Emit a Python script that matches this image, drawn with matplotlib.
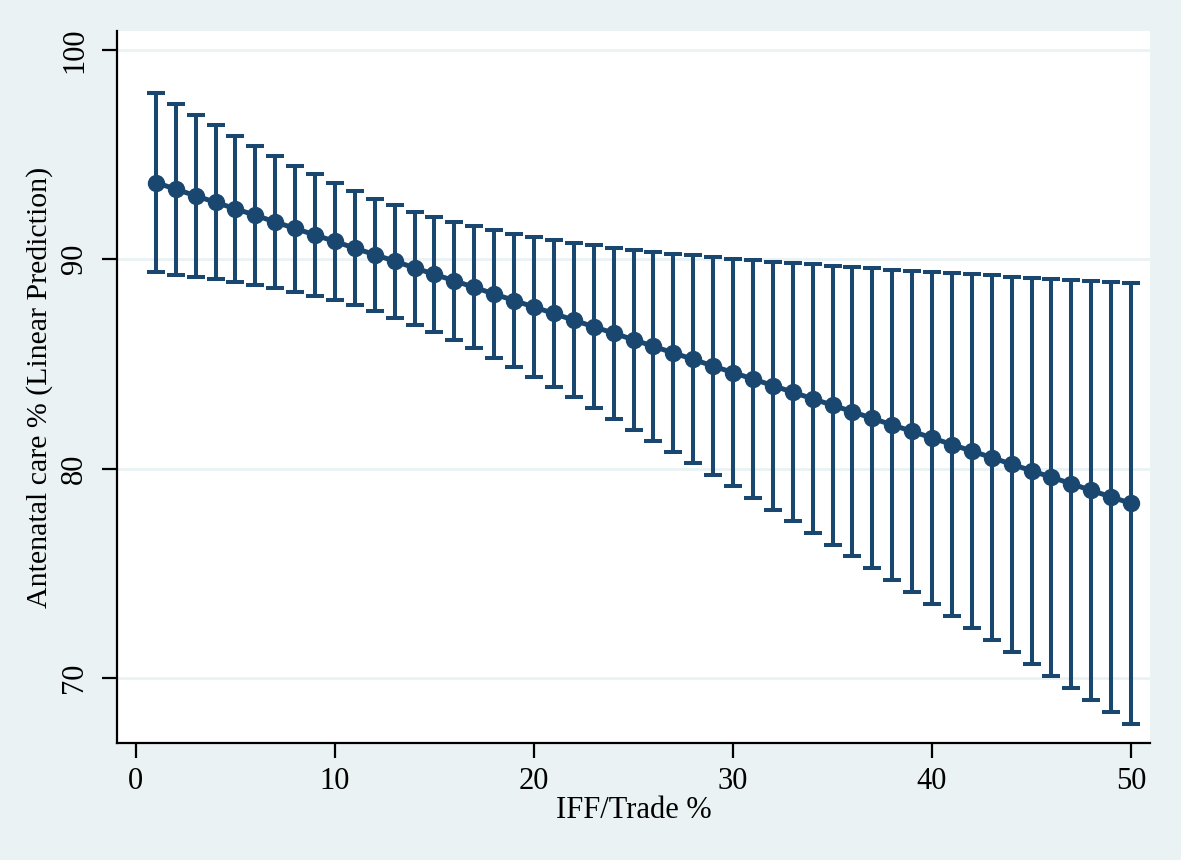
import matplotlib
matplotlib.use("Agg")
import matplotlib.pyplot as plt

# IFF/Trade % values
iff = list(range(1, 51))

# Linear prediction (point estimates)
prediction = [93.66, 93.35, 93.03, 92.72, 92.41, 92.10, 91.78, 91.47, 91.16, 90.85,
              90.53, 90.22, 89.91, 89.59, 89.28, 88.97, 88.66, 88.34, 88.03, 87.72,
              87.41, 87.09, 86.78, 86.47, 86.16, 85.84, 85.53, 85.22, 84.90, 84.59,
              84.28, 83.97, 83.65, 83.34, 83.03, 82.72, 82.40, 82.09, 81.78, 81.47,
              81.15, 80.84, 80.53, 80.21, 79.90, 79.59, 79.28, 78.96, 78.65, 78.34]

# Upper 95% CI
upper = [97.93, 97.41, 96.89, 96.40, 95.89, 95.41, 94.94, 94.47, 94.06, 93.63,
         93.28, 92.88, 92.59, 92.26, 92.02, 91.79, 91.58, 91.38, 91.21, 91.06,
         90.92, 90.78, 90.66, 90.56, 90.46, 90.35, 90.27, 90.18, 90.10, 90.02,
         89.95, 89.89, 89.81, 89.75, 89.69, 89.63, 89.56, 89.50, 89.45, 89.40,
         89.33, 89.28, 89.23, 89.17, 89.12, 89.08, 89.03, 88.97, 88.93, 88.88]

# Lower 95% CI
lower = [89.38, 89.27, 89.17, 89.07, 88.93, 88.79, 88.61, 88.45, 88.25, 88.06,
         87.80, 87.53, 87.21, 86.88, 86.54, 86.15, 85.74, 85.30, 84.85, 84.39,
         83.90, 83.40, 82.90, 82.39, 81.86, 81.33, 80.79, 80.26, 79.70, 79.16,
         78.61, 78.05, 77.49, 76.93, 76.37, 75.81, 75.24, 74.68, 74.11, 73.54,
         72.97, 72.40, 71.83, 71.25, 70.68, 70.10, 69.53, 68.95, 68.37, 67.80]

x_ticks = [0, 10, 20, 30, 40, 50]
y_ticks = [70, 80, 90, 100]
x_label = "IFF/Trade %"
y_label = "Antenatal care % (Linear Prediction)"

navy = "#1A476F"
bg = "#EAF2F3"

plt.rcParams['font.family'] = ['Liberation Serif', 'DejaVu Serif']

fig = plt.figure(figsize=(11.81, 8.60), dpi=100, facecolor=bg)
ax = fig.add_axes([117/1181, 1 - 743/860, (1150 - 117)/1181, (743 - 31)/860])
ax.set_facecolor("white")

yerr_low = [p - l for p, l in zip(prediction, lower)]
yerr_up = [u - p for u, p in zip(upper, prediction)]

ax.errorbar(iff, prediction, yerr=[yerr_low, yerr_up], fmt='none',
            ecolor=navy, elinewidth=2.9, capsize=6.8, capthick=2.9, zorder=3)
ax.plot(iff, prediction, color=navy, linewidth=3.6, marker='o',
        markersize=11.5, markerfacecolor=navy, markeredgecolor=navy, zorder=4)

ax.set_xlim(-0.95, 50.95)
ax.set_ylim(66.9, 100.9)
ax.set_xticks(x_ticks)
ax.set_yticks(y_ticks)
ax.set_xticklabels([str(t) for t in x_ticks], fontsize=22)
ax.set_yticklabels([str(t) for t in y_ticks], fontsize=22, rotation=90, va='center')

ax.grid(axis='y', color=bg, linewidth=2.0, zorder=0)
ax.set_axisbelow(True)

for s in ['top', 'right']:
    ax.spines[s].set_visible(False)
for s in ['left', 'bottom']:
    ax.spines[s].set_linewidth(1.6)
    ax.spines[s].set_color('black')

ax.tick_params(axis='both', direction='out', length=11, width=1.6, color='black')
ax.tick_params(axis='x', pad=6)
ax.tick_params(axis='y', pad=9)

ax.set_xlabel(x_label, fontsize=22, labelpad=0)
ax.set_ylabel(y_label, fontsize=21.5, labelpad=5)

fig.savefig("out.png", dpi=100, facecolor=bg)
